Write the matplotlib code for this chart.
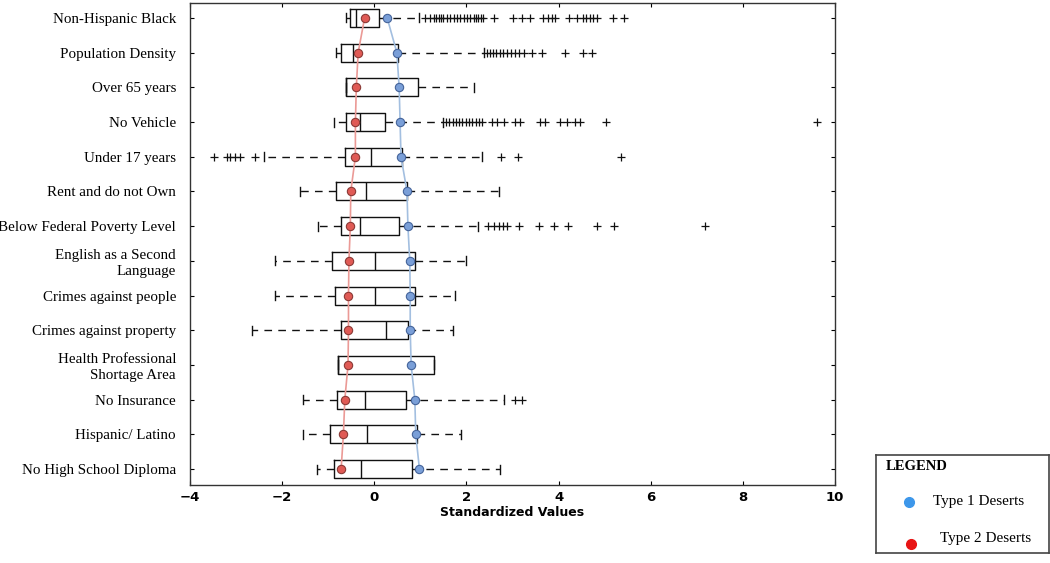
import matplotlib
matplotlib.use("Agg")
import matplotlib.pyplot as plt

# variables, top to bottom
categories = ["Non-Hispanic Black", "Population Density", "Over 65 years", "No Vehicle",
              "Under 17 years", "Rent and do not Own", "Below Federal Poverty Level",
              "English as a Second\nLanguage", "Crimes against people",
              "Crimes against property", "Health Professional\nShortage Area",
              "No Insurance", "Hispanic/ Latino", "No High School Diploma"]

whislo = [-0.61, -0.83, -0.61, -0.87, -2.40, -1.62, -1.23, -2.16, -2.15, -2.66, -0.79, -1.55, -1.55, -1.24]
q1 = [-0.53, -0.73, -0.61, -0.61, -0.63, -0.83, -0.72, -0.92, -0.85, -0.72, -0.79, -0.80, -0.97, -0.88]
med = [-0.40, -0.46, -0.61, -0.30, -0.07, -0.19, -0.30, 0.01, 0.02, 0.25, -0.79, -0.21, -0.16, -0.29]
q3 = [0.10, 0.51, 0.95, 0.24, 0.60, 0.71, 0.53, 0.89, 0.89, 0.73, 1.30, 0.68, 0.93, 0.81]
whishi = [0.98, 2.39, 2.17, 1.50, 2.34, 2.71, 2.25, 1.99, 1.76, 1.71, 1.30, 2.82, 1.88, 2.73]

fliers = [
    [1.11, 1.20, 1.29, 1.35, 1.40, 1.45, 1.50, 1.58, 1.65, 1.72, 1.80, 1.87, 1.94, 2.01,
     2.08, 2.16, 2.21, 2.26, 2.32, 2.37, 2.59, 3.02, 3.21, 3.39, 3.67, 3.78, 3.86, 3.93,
     4.22, 4.40, 4.54, 4.60, 4.69, 4.74, 4.83, 5.19, 5.41],
    [2.45, 2.52, 2.58, 2.65, 2.72, 2.80, 2.88, 2.96, 3.05, 3.14, 3.24, 3.42, 3.64, 4.15, 4.54, 4.72],
    [],
    [1.56, 1.63, 1.70, 1.77, 1.84, 1.91, 1.98, 2.05, 2.12, 2.20, 2.27, 2.33, 2.55, 2.66,
     2.81, 3.06, 3.17, 3.60, 3.71, 4.04, 4.18, 4.36, 4.47, 5.04, 9.61],
    [-3.47, -3.20, -3.13, -3.02, -2.91, -2.58, 2.75, 3.11, 5.35],
    [],
    [2.46, 2.60, 2.70, 2.79, 2.88, 3.15, 3.57, 3.91, 4.20, 4.83, 5.21, 7.18],
    [], [], [], [],
    [3.05, 3.20],
    [], [],
]

type1_mean = [0.28, 0.49, 0.54, 0.56, 0.58, 0.71, 0.73, 0.77, 0.78, 0.78, 0.80, 0.88, 0.90, 0.98]
type2_mean = [-0.21, -0.35, -0.39, -0.41, -0.41, -0.51, -0.52, -0.55, -0.56, -0.56, -0.57, -0.64, -0.67, -0.72]

xticks = [-4, -2, 0, 2, 4, 6, 8, 10]

serif = "Liberation Serif"

fig = plt.figure(figsize=(10.5, 5.63), dpi=100)
ax = fig.add_axes([190 / 1050, 1 - 485 / 563, 645 / 1050, 482 / 563])

pos = list(range(1, len(categories) + 1))
stats = []
for i in range(len(categories)):
    stats.append(dict(med=med[i], q1=q1[i], q3=q3[i], whislo=whislo[i],
                      whishi=whishi[i], fliers=fliers[i]))

ax.bxp(stats, positions=pos, widths=0.52, orientation="horizontal",
       boxprops=dict(color="#111111", lw=1.0),
       whiskerprops=dict(color="#111111", lw=1.0, ls=(0, (5.5, 4.5))),
       capprops=dict(color="#111111", lw=1.0),
       medianprops=dict(color="#111111", lw=1.0),
       flierprops=dict(marker="+", markeredgecolor="#111111", markersize=6,
                       markeredgewidth=0.9, ls="none"))

# group means
ax.plot(type2_mean, pos, color="#eb9a96", lw=1.2, zorder=3)
ax.plot(type1_mean, pos, color="#a3bfe0", lw=1.2, zorder=3)
ax.plot(type2_mean, pos, "o", ms=6, mfc="#e05a55", mec="#8a3a36", mew=0.8, zorder=4)
ax.plot(type1_mean, pos, "o", ms=6, mfc="#7a9fd8", mec="#45649a", mew=0.8, zorder=4)

ax.set_xlim(-4, 10)
ax.set_ylim(14.46, 0.57)
ax.set_xticks(xticks)
ax.set_yticks(pos)
ax.set_yticklabels(categories, fontfamily=serif, fontsize=10.8, linespacing=1.25)
ax.tick_params(axis="both", direction="in", top=True, right=True, length=3, width=0.8)
ax.tick_params(axis="y", pad=10)
ax.tick_params(axis="x", labelsize=9.5, pad=4)
for lbl in ax.get_xticklabels():
    lbl.set_fontweight("bold")
ax.set_xlabel("Standardized Values", fontsize=9, fontweight="bold", labelpad=2)
for s in ax.spines.values():
    s.set_color("#333333")
    s.set_linewidth(1.0)

# legend box
lax = fig.add_axes([876 / 1050, 1 - 553 / 563, 173 / 1050, 98 / 563])
lax.set_xlim(0, 1)
lax.set_ylim(0, 1)
lax.set_xticks([])
lax.set_yticks([])
for s in lax.spines.values():
    s.set_color("#444444")
    s.set_linewidth(1.2)
lax.text(0.058, 0.88, "LEGEND", fontfamily=serif, fontsize=10.5, fontweight="bold",
         va="center", ha="left")
lax.plot([0.193], [0.52], "o", ms=7, color="#3d97ea")
lax.text(0.328, 0.53, "Type 1 Deserts", fontfamily=serif, fontsize=11, va="center")
lax.plot([0.20], [0.09], "o", ms=7, color="#e81414")
lax.text(0.37, 0.145, "Type 2 Deserts", fontfamily=serif, fontsize=11, va="center")

fig.savefig("out.png", dpi=100)
